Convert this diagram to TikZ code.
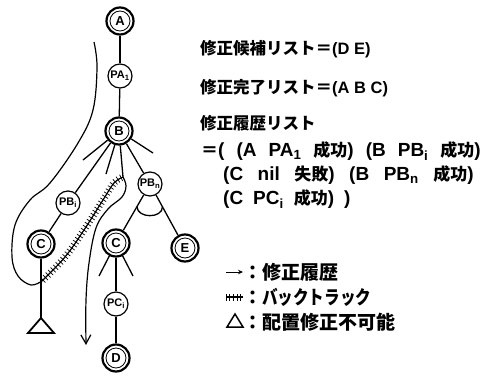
\documentclass[tikz,border=0pt]{standalone}
\usepackage{fontspec}
\usepackage{graphicx}
\setmainfont{Liberation Sans}
\newfontfamily\jp{Noto Sans CJK JP}
\newcommand\gp{\hspace{12pt}}
\newcommand\gpw{\hspace{14.5pt}}
\newcommand\gpn{\hspace{10pt}}
\newcommand\Jb[1]{{\jp\fontsize{17}{17}\selectfont #1}}
\usetikzlibrary{arrows.meta,decorations.markings,calc}
\begin{document}
\begin{tikzpicture}[x=1pt,y=-1pt,
  dnode/.style={circle,draw,line width=2.2pt,minimum size=27pt,inner sep=0pt,
    font=\bfseries\fontsize{13}{13}\selectfont,
    path picture={\draw[line width=0.8pt] (path picture bounding box.center) circle (10pt);}},
  snode/.style={circle,draw,line width=1.2pt,minimum size=24pt,inner sep=0pt,
    font=\bfseries\fontsize{11}{11}\selectfont},
  edge/.style={line width=1.3pt},
  hist/.style={line width=1.2pt},
  hatch/.style={line width=1.2pt,postaction={decorate},
    decoration={markings,mark=between positions 0.01 and 0.99 step 3.6pt with {\draw[line width=0.7pt] (0pt,-3.5pt) -- (0pt,3.5pt);}}},
  txt/.style={anchor=west,inner sep=0pt,font=\bfseries\fontsize{16.5}{17}\selectfont},
  ltxt/.style={anchor=west,inner sep=0pt,font=\bfseries\fontsize{19}{19}\selectfont},
  btxt/.style={anchor=west,inner sep=0pt,font=\bfseries\fontsize{19}{19}\selectfont},
]
\useasboundingbox (0,0) rectangle (490,375);
% tree nodes
\node[dnode] (A) at (120,21) {A};
\node[snode] (PA) at (120,76) {PA\textsubscript{1}};
\node[dnode] (B) at (119,131) {B};
\node[snode] (PBi) at (68,203) {PB\textsubscript{i}};
\node[dnode] (C1) at (41,244) {C};
\node[snode] (PBn) at (150,184) {PB\textsubscript{n}};
\node[dnode] (C2) at (116,243) {C};
\node[dnode] (E) at (185,248) {E};
\node[snode] (PC) at (116,304) {PC\textsubscript{i}};
\node[dnode] (D) at (116,358) {D};
% helper coordinates
\coordinate (T) at (41,318);
\coordinate (b1) at (83,160);
\coordinate (b2) at (106,174);
\coordinate (b3) at (153,153);
\coordinate (U) at (123,177);
\coordinate (c1) at (99,276);
\coordinate (c2) at (133,276);
\coordinate (L) at (42,281);
% edges
\draw[edge] (A) -- (PA);
\draw[edge] (PA) -- (B);
\draw[edge] (B) -- (PBi);
\draw[edge] (PBi) -- (C1);
\draw[edge] (C1) -- (T);
\draw[edge] (B) -- (PBn);
\draw[edge] (PBn) -- (C2);
\draw[edge] (PBn) -- (E);
\draw[edge] (C2) -- (PC);
\draw[edge] (PC) -- (D);
\draw[edge] (B) -- (b1);
\draw[edge] (B) -- (b2);
\draw[edge] (B) -- (b3);
\draw[edge] (B) -- (U);
\draw[edge] (C2) -- (c1);
\draw[edge] (C2) -- (c2);
\draw[edge] ($(PBn)!26pt!(C2)$) .. controls +(0,12) and +(0,12) .. ($(PBn)!26pt!(E)$);
% triangle
\draw[line width=1.8pt,line join=miter] (T) -- (28,333) -- (54,333) -- cycle;
% modification history
\draw[hist] plot[smooth,tension=0.6] coordinates {(94,42) (97,67) (93,110) (78,143) (50,183) (30,200) (15,225) (12,257) (18,276) (31,285) (L)};
\draw[hatch] plot[smooth,tension=0.6] coordinates {(L) (65,257) (84,230) (103,200) (114,183) (U)};
\draw[hist,-{Straight Barb[length=9pt,width=10pt]}] plot[smooth,tension=0.6] coordinates {(U) (126,186) (122,197) (108,209) (96,228) (89,263) (86,300) (86,345)};
% texts
\node[txt] (t1) at (200,49) {{\jp 修正候補リスト＝}(D E)};
\node[txt] (t2) at (200,88) {{\jp 修正完了リスト＝}(A B C)};
\node[txt] (t3) at (200,123) {\jp 修正履歴リスト};
\node[btxt] (t4) at (201,151) {\Jb{＝}(\gp(A\gp PA\textsubscript{1}\gp\Jb{成功})\gp(B\gp PB\textsubscript{i}\gp\Jb{成功})};
\node[btxt] (t5) at (223,175) {(C\gpw nil\gpw\Jb{失敗})\gpw(B\gpw PB\textsubscript{n}\gpw\Jb{成功})};
\node[btxt] (t6) at (223,199) {(C\gpn PC\textsubscript{i}\gpn\Jb{成功})\gpn)};
% legend
\coordinate (la1) at (226,272);
\coordinate (la2) at (243,272);
\draw[line width=1pt,-{Stealth[length=5pt,width=4.5pt]}] (la1) -- (la2);
\node[ltxt] (l1) at (243,272) {\jp ：修正履歴};
\coordinate (lb1) at (226,297);
\coordinate (lb2) at (243,297);
\draw[hatch] (lb1) -- (lb2);
\node[ltxt] (l2) at (243,297) {\jp ：\scalebox{0.82}[1]{バックトラック}};
\draw[line width=1.5pt,line join=miter] (235,314) -- (227,327) -- (243,327) -- cycle;
\node[ltxt] (l3) at (243,322) {\jp ：配置修正不可能};
\end{tikzpicture}
\end{document}
